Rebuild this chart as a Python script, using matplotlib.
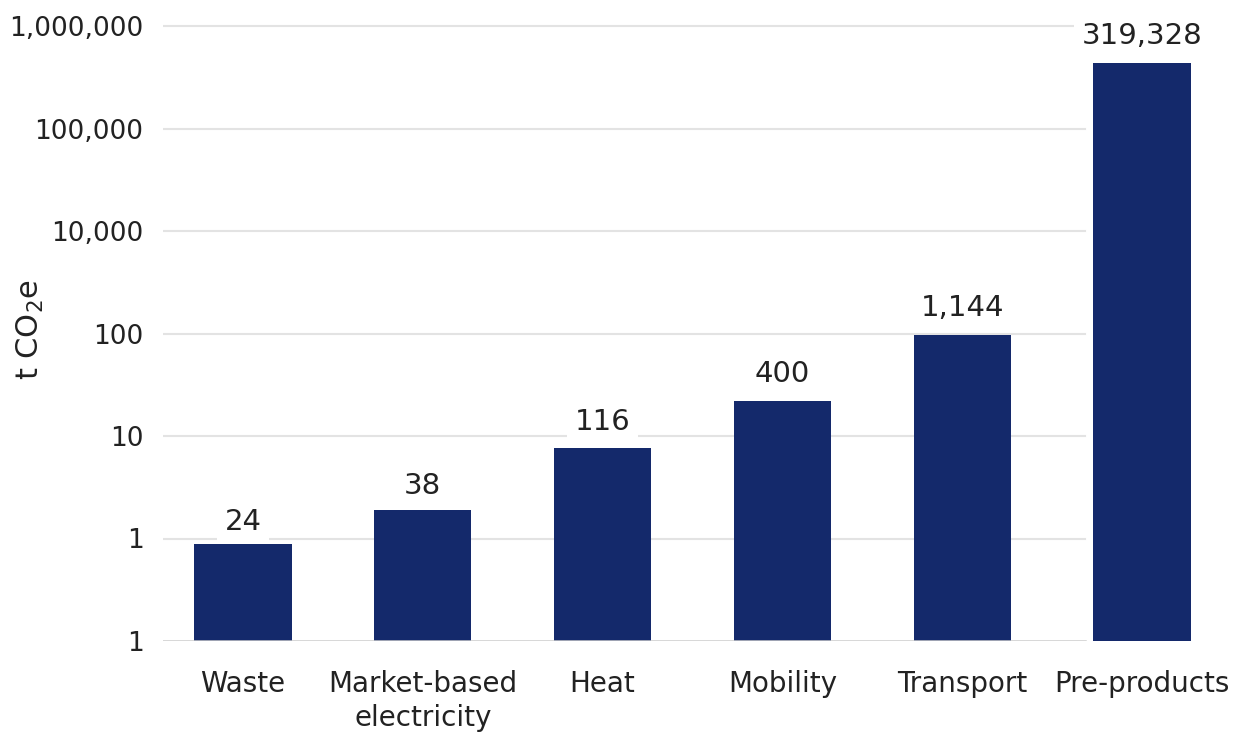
import matplotlib
matplotlib.use("Agg")
import matplotlib.pyplot as plt
import numpy as np

# categories and values
categories = ["Waste", "Market-based\nelectricity", "Heat", "Mobility", "Transport", "Pre-products"]
value_labels = ["24", "38", "116", "400", "1,144", "319,328"]
# bar heights as read against the (log) axis of the picture
bar_heights = [0.79, 1.81, 7.5, 22.0, 97.0, 43600.0]
# tick positions and the labels printed on them
tick_values = [0.1, 1, 10, 100, 1000, 10000, 100000]
tick_labels = ["1", "1", "10", "100", "10,000", "100,000", "1,000,000"]

bar_color = "#14296b"
text_color = "#222222"

plt.rcParams["font.family"] = ["DejaVu Sans"]

fig = plt.figure(figsize=(12.53, 7.36), dpi=100)
W, H = 1253, 736
left, right, bottom, top = 163, 1205, 641, 0
ax = fig.add_axes([left / W, (H - bottom) / H, (right - left) / W, (bottom - top) / H])

x = np.arange(len(categories))
ax.set_yscale("log")
ax.set_ylim(0.1, 10 ** (5 + 26 / 102.5))
ax.set_xlim(-0.445, -0.445 + (right - left) / 179.8)

# gridlines stop short of the right end
grid_end = (1085 - left) / (right - left)
for v in tick_values[1:]:
    ax.axhline(v, xmin=0, xmax=grid_end, color="#e3e3e3", lw=1.5, zorder=0)
ax.axhline(0.1, xmin=0, xmax=grid_end, color="#cccccc", lw=1.8, zorder=3)

ax.bar(x, bar_heights, width=0.54, bottom=0.1, color=bar_color, zorder=2)

for xi, h, lab in zip(x, bar_heights, value_labels):
    ax.annotate(lab, (xi, h), xytext=(0, 9), textcoords="offset points",
                ha="center", va="bottom", fontsize=21, color=text_color, zorder=4,
                bbox=dict(boxstyle="square,pad=0.25", fc="white", ec="none"))

ax.set_yticks(tick_values)
ax.set_yticklabels(tick_labels)
ax.yaxis.set_minor_locator(matplotlib.ticker.NullLocator())
ax.set_xticks(x)
ax.set_xticklabels(categories)
ax.tick_params(axis="y", length=0, pad=14, labelsize=19, labelcolor=text_color)
ax.tick_params(axis="x", length=0, pad=21, labelsize=20, labelcolor=text_color)
for lbl in ax.get_xticklabels():
    lbl.set_linespacing(1.25)

for s in ax.spines.values():
    s.set_visible(False)

fig.text(30 / W, 1 - 330 / H, "t CO$_2$e", rotation=90, ha="center", va="center",
         fontsize=22, color=text_color)

fig.savefig("out.png", dpi=100, facecolor="white")
